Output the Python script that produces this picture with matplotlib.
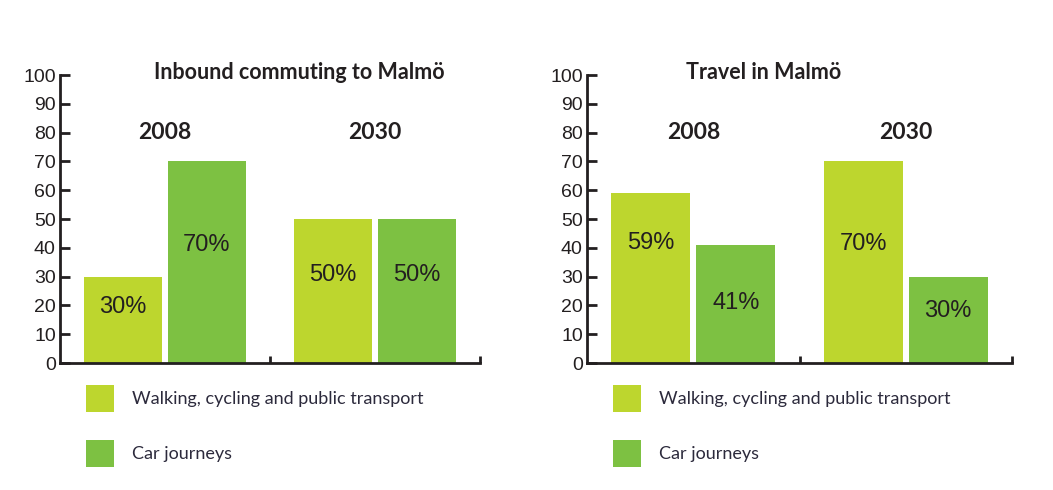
import matplotlib
matplotlib.use('Agg')
import matplotlib.pyplot as plt

# data
years = ['2008', '2030']
series_labels = ['Walking, cycling and public transport', 'Car journeys']

inbound_sustainable = [30, 50]
inbound_car = [70, 50]

travel_sustainable = [59, 70]
travel_car = [41, 30]

# where the % labels sit inside the bars (layout, not data)
inbound_label_y = [[19.5, 30.5], [41, 30.5]]
travel_label_y = [[41.5, 41.3], [20.8, 18]]

light = '#bdd62e'
dark = '#7dc142'
ink = '#231f20'
legend_ink = '#2c2a3c'


def draw_panel(ax, title, title_x, sustainable, car, label_y):
    centers = [0.5, 1.5]
    w = 0.372
    off = 0.2
    b1 = ax.bar([c - off for c in centers], sustainable, width=w, color=light,
                label=series_labels[0])
    b2 = ax.bar([c + off for c in centers], car, width=w, color=dark,
                label=series_labels[1])

    for i, c in enumerate(centers):
        ax.text(c - off, label_y[0][i], f'{sustainable[i]}%', ha='center', va='center',
                fontsize=17, color=ink, family='Liberation Sans')
        ax.text(c + off, label_y[1][i], f'{car[i]}%', ha='center', va='center',
                fontsize=17, color=ink, family='Liberation Sans')
        ax.text(c, 80.2, years[i], ha='center', va='center', fontsize=16.5,
                fontweight='bold', color=ink, family='Lato')

    ax.text(title_x, 101, title, ha='left', va='center', fontsize=15.5,
            fontweight='bold', color=ink, family='Lato', clip_on=False)

    ax.set_xlim(0, 2)
    ax.set_ylim(0, 100)
    ax.set_yticks(range(0, 101, 10))
    ax.set_xticks([1, 2])
    ax.set_xticklabels([])
    for s in ['top', 'right']:
        ax.spines[s].set_visible(False)
    for s in ['left', 'bottom']:
        ax.spines[s].set_linewidth(2)
        ax.spines[s].set_color(ink)
    ax.tick_params(axis='y', direction='in', length=7, width=2, color=ink,
                   labelsize=14, labelcolor=ink, pad=3)
    ax.tick_params(axis='x', direction='in', length=5, width=2, color=ink)
    for lab in ax.get_yticklabels():
        lab.set_family('Liberation Sans')

    leg = ax.legend(handles=[b1, b2], loc='upper left', bbox_to_anchor=(0.062, -0.075),
                    frameon=False, handlelength=1.55, handleheight=2.0,
                    labelspacing=1.5, handletextpad=1.0, borderpad=0, borderaxespad=0,
                    prop={'family': 'Lato', 'size': 13})
    for t in leg.get_texts():
        t.set_color(legend_ink)


fig = plt.figure(figsize=(10.53, 4.90), dpi=100)
ax1 = fig.add_axes([60 / 1053, 127 / 490, 420 / 1053, 288 / 490])
ax2 = fig.add_axes([587 / 1053, 127 / 490, 425 / 1053, 288 / 490])

draw_panel(ax1, 'Inbound commuting to Malmö', 0.45, inbound_sustainable, inbound_car,
           inbound_label_y)
draw_panel(ax2, 'Travel in Malmö', 0.467, travel_sustainable, travel_car, travel_label_y)

fig.savefig('out.png', dpi=100)
